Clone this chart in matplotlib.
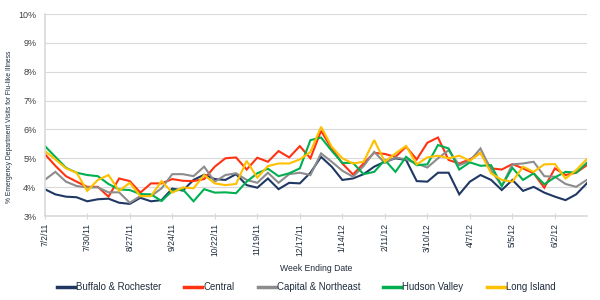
import matplotlib
matplotlib.use("Agg")
import matplotlib.pyplot as plt
import numpy as np

plt.rcParams['font.family'] = ['Liberation Sans', 'DejaVu Sans']

tick_labels = ["7/2/11", "7/30/11", "8/27/11", "9/24/11", "10/22/11", "11/19/11",
               "12/17/11", "1/14/12", "2/11/12", "3/10/12", "4/7/12", "5/5/12", "6/2/12"]

buffalo = [3.93, 3.75, 3.67, 3.65, 3.51, 3.58, 3.60, 3.46, 3.42, 3.63, 3.51, 3.55, 3.95,
           3.88, 4.25, 4.43, 4.28, 4.25, 4.45, 4.07, 3.98, 4.30, 3.93, 4.15, 4.13, 4.50,
           5.05, 4.71, 4.25, 4.30, 4.45, 4.71, 4.88, 5.00, 4.94, 4.21, 4.19, 4.50, 4.50,
           3.75, 4.19, 4.42, 4.25, 3.90, 4.25, 3.87, 4.01, 3.81, 3.67, 3.55, 3.75, 4.13]
central = [5.15, 4.74, 4.38, 4.19, 4.01, 4.01, 3.67, 4.30, 4.21, 3.81, 4.13, 4.13, 4.28,
           4.22, 4.21, 4.28, 4.71, 5.00, 5.03, 4.61, 5.02, 4.88, 5.25, 5.03, 5.42, 5.00,
           5.95, 5.34, 4.82, 4.44, 4.82, 5.19, 5.15, 5.05, 5.40, 4.96, 5.54, 5.72, 4.94,
           4.82, 4.96, 5.19, 4.65, 4.61, 4.80, 4.65, 4.48, 3.98, 4.65, 4.42, 4.50, 4.76]
capital = [4.25, 4.53, 4.19, 4.04, 3.99, 3.99, 3.82, 3.82, 3.46, 3.69, 3.69, 3.96, 4.45,
           4.45, 4.38, 4.71, 4.19, 4.42, 4.48, 4.25, 4.15, 4.50, 4.15, 4.45, 4.50, 4.42,
           5.17, 4.88, 4.57, 4.36, 4.73, 5.22, 4.84, 5.03, 4.96, 4.82, 4.68, 5.00, 5.28,
           4.76, 4.91, 5.34, 4.59, 4.04, 4.79, 4.82, 4.88, 4.38, 4.36, 4.11, 4.01, 4.25]
hudson = [5.43, 5.05, 4.67, 4.50, 4.42, 4.38, 4.11, 3.92, 3.90, 3.76, 3.75, 3.52, 3.87,
          3.92, 3.51, 3.93, 3.81, 3.82, 3.79, 4.19, 4.48, 4.64, 4.38, 4.48, 4.65, 5.63,
          5.72, 5.26, 4.84, 4.84, 4.45, 4.53, 4.94, 4.53, 5.05, 4.76, 4.79, 5.46, 5.34,
          4.61, 4.86, 4.74, 4.76, 4.04, 4.67, 4.25, 4.48, 4.10, 4.34, 4.53, 4.50, 4.84]
long_island = [5.26, 4.96, 4.65, 4.50, 3.87, 4.25, 4.42, 3.87, 4.15, 3.69, 3.69, 4.21, 3.81,
               3.99, 3.96, 4.42, 4.13, 4.07, 4.11, 4.91, 4.33, 4.73, 4.82, 4.82, 4.96, 5.22,
               6.09, 5.40, 5.00, 4.82, 4.88, 5.63, 4.88, 5.17, 5.43, 4.79, 5.03, 5.09, 5.00,
               5.09, 4.91, 5.19, 4.48, 4.25, 4.19, 4.71, 4.53, 4.79, 4.80, 4.30, 4.59, 4.97]

series_names = ["Buffalo & Rochester", "Central", "Capital & Northeast", "Hudson Valley", "Long Island"]
series_colors = ["#1f3864", "#ff3311", "#8c8c8c", "#00b050", "#ffc000"]
series_values = [buffalo, central, capital, hudson, long_island]

fig = plt.figure(figsize=(6, 3), dpi=100)
ax = fig.add_axes([0.0745, 0.28, 0.9035, 0.6733])

x = np.arange(len(buffalo))
for name, col, vals in zip(series_names, series_colors, series_values):
    ax.plot(x, vals, color=col, lw=1.5, label=name, solid_joinstyle='miter')

ax.set_xlim(0, len(buffalo) - 1)
ax.set_ylim(3, 10)
ax.set_yticks(np.arange(3, 11, 1))
ax.set_yticklabels([f"{v}%" for v in range(3, 11)], fontsize=6.5, color="#404040")
ax.set_xticks(np.arange(0, len(tick_labels) * 4, 4))
ax.set_xticklabels(tick_labels, rotation=90, fontsize=6.2, color="#1f2d3d")
ax.yaxis.grid(True, color="#d9d9d9", lw=0.8)
ax.set_axisbelow(True)
for s in ["top", "right"]:
    ax.spines[s].set_visible(False)
ax.spines["left"].set_color("#d9d9d9")
ax.spines["bottom"].set_color("#d9d9d9")
ax.spines["left"].set_linewidth(1.2)
ax.spines["bottom"].set_linewidth(1.2)
ax.tick_params(axis='y', length=0, pad=6)
ax.tick_params(axis='x', length=4, color="#d9d9d9", pad=3, direction='inout')

ax.set_xlabel("Week Ending Date", fontsize=6.2, color="#1f2d3d", labelpad=6)
ax.set_ylabel("% Emergency Department Visits for Flu-like Illness", fontsize=4.9,
              color="#1f2d3d")
ax.yaxis.set_label_coords(-0.058, 0.44)

leg = fig.legend(loc="center", bbox_to_anchor=(0.51, 0.043), ncol=5, frameon=False,
                 fontsize=6.9, handlelength=1.9, handletextpad=0.1, columnspacing=2.4)
for line in leg.get_lines():
    line.set_linewidth(2.5)
for t in leg.get_texts():
    t.set_color("#1f2d3d")

fig.savefig("out.png", dpi=100)
